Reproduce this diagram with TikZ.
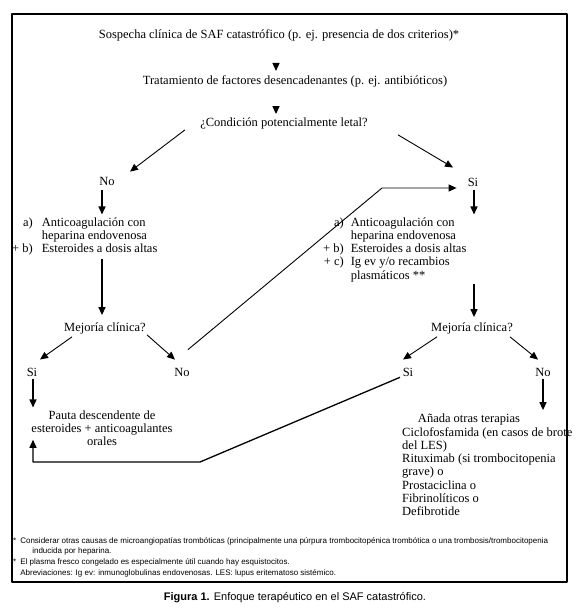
\documentclass[tikz,border=0pt]{standalone}
\usepackage{fontspec}
\setmainfont{Liberation Serif}
\newfontfamily\notasfont{Liberation Sans}
\usetikzlibrary{arrows.meta}
\begin{document}
\begin{tikzpicture}[x=1pt,y=-1pt,>={Triangle[length=8pt,width=7pt]}, font=\fontsize{12.5}{13.3}\selectfont, line join=round,
  txt/.style={inner sep=0pt, anchor=base},
  bloque/.style={inner sep=0pt, anchor=base west},
  flecha/.style={->, line width=1.3pt},
  diag/.style={->, line width=0.9pt}]
  \useasboundingbox (0,0) rectangle (580,609);
  \draw[line width=1.2pt] (12,14) rectangle (567,582);
  \coordinate (ejeA) at (276,0); \coordinate (ejeI) at (102,0); \coordinate (ejeD) at (474,0); % ejes de las flechas
  \coordinate (codoA) at (382,188); \coordinate (codoB) at (200,462);
  % arriba
  \node[txt] (sosp) at (279,39) {Sospecha clínica de SAF catastrófico (p. ej. presencia de dos criterios)*};
  \node[txt] (trat) at (295,85) {Tratamiento de factores desencadenantes (p. ej. antibióticos)};
  \node[txt] (cond) at (284,127) {¿Condición potencialmente letal?};
  \draw[flecha, shorten <=22pt, shorten >=5pt] (sosp.south -| ejeA) -- (trat.north -| ejeA);
  \draw[flecha, shorten <=19pt, shorten >=4pt] (trat.south -| ejeA) -- (cond.north -| ejeA);
  % rama izquierda
  \node[txt] (no1) at (107,186) {No};
  \node[bloque] (trI) at (12,226) {\begin{tabular}[t]{@{}r@{\hspace{9pt}}l@{}}a) & Anticoagulación con\\ & heparina endovenosa\\+ b) & Esteroides a dosis altas\end{tabular}};
  \node[txt] (mej1) at (105,331) {Mejoría clínica?};
  \node[txt] (si2) at (32,376) {Si};
  \node[txt] (no2) at (182,376) {No};
  \node[bloque, anchor=base] (pauta) at (102,419) {\begin{tabular}[t]{@{}c@{}}Pauta descendente de\\esteroides + anticoagulantes\\orales\end{tabular}};
  \draw[diag] ([shift={(-99,0)}]cond.south) -- ([shift={(23,-6)}]no1.north);
  \draw[flecha] ([shift={(0,4)}]no1.south -| ejeI) -- ([shift={(0,-2)}]trI.north -| ejeI);
  \draw[flecha, shorten >=7pt] ([shift={(0,2)}]trI.south -| ejeI) -- (mej1.north -| ejeI);
  \draw[diag] ([shift={(-33,3)}]mej1.south) -- ([shift={(8,-8)}]si2.north);
  \draw[diag] ([shift={(42,1)}]mej1.south) -- ([shift={(-7,-8)}]no2.north);
  \draw[flecha] ([shift={(1,3)}]si2.south) -- ([shift={(1,-2)}]pauta.north -| si2);
  % rama derecha
  \node[txt] (si1) at (473,187) {Si};
  \node[bloque] (trD) at (323,226) {\begin{tabular}[t]{@{}r@{\hspace{7pt}}l@{}}a) & Anticoagulación con\\ & heparina endovenosa\\+ b) & Esteroides a dosis altas\\+ c) & Ig ev y/o recambios\\ & plasmáticos **\end{tabular}};
  \node[txt] (mej2) at (472,331) {Mejoría clínica?};
  \node[txt] (si3) at (408,376) {Si};
  \node[txt] (no3) at (543,376) {No};
  \node[txt] (anada) at (469,422) {Añada otras terapias};
  \node[bloque] (terap) at (402,436) {\begin{tabular}[t]{@{}l@{}}Ciclofosfamida (en casos de brote\\del LES)\\Rituximab (si trombocitopenia\\grave) o\\Prostaciclina o\\Fibrinolíticos o\\Defibrotide\end{tabular}};
  \draw[diag] ([shift={(114,5)}]cond.south) -- ([shift={(-20,-11)}]si1.north);
  \draw[flecha] ([shift={(0,3)}]si1.south -| ejeD) -- ([shift={(0,-2)}]trD.north -| ejeD);
  \draw[flecha, shorten >=5pt] ([shift={(0,1)}]trD.south -| ejeD) -- (mej2.north -| ejeD);
  \draw[diag] ([shift={(-35,3)}]mej2.south) -- ([shift={(-5,-8)}]si3.north);
  \draw[diag] ([shift={(38,3)}]mej2.south) -- ([shift={(-5,-8)}]no3.north);
  \draw[flecha] ([shift={(0,3)}]no3.south) -- ([shift={(0,-3)}]anada.north -| no3);
  % vueltas
  \draw[diag] ([shift={(6,-18)}]no2.north) -- (codoA) -- ([shift={(-11,0)}]codoA -| si1.west);
  \draw[flecha] ([shift={(-8,1)}]si3.south) -- (codoB) -| ([shift={(1,-10)}]pauta.south -| si2);
  % notas
  \node[bloque, font=\notasfont\fontsize{8}{10.7}\selectfont] (notas) at (13,543) {\begin{tabular}[t]{@{}r@{\hspace{4pt}}l@{}}* & Considerar otras causas de microangiopatías trombóticas (principalmente una púrpura trombocitopénica trombótica o una trombosis/trombocitopenia\\ & \hspace{12pt}inducida por heparina.\\** & El plasma fresco congelado es especialmente útil cuando hay esquistocitos.\\ & Abreviaciones: Ig ev: inmunoglobulinas endovenosas. LES: lupus eritematoso sistémico.\end{tabular}};
  \node[txt, font=\notasfont\fontsize{11}{12}\selectfont] (titulo) at (295,600) {\textbf{Figura 1.} Enfoque terapéutico en el SAF catastrófico.};
\end{tikzpicture}
\end{document}
